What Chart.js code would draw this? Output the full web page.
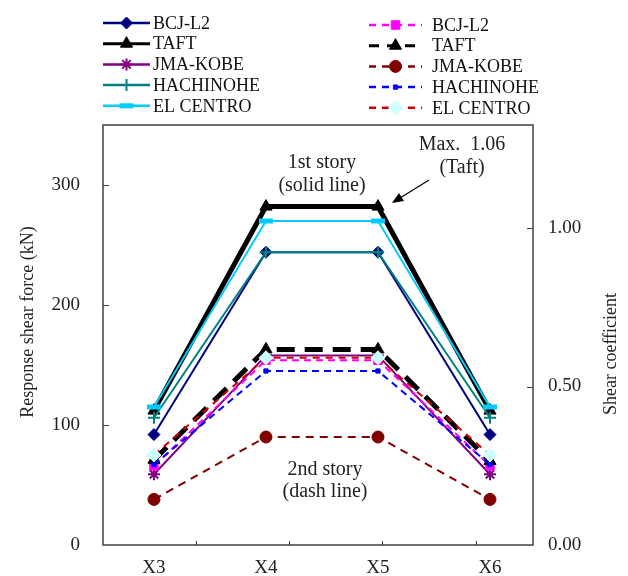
<!DOCTYPE html>
<html>
<head>
<meta charset="utf-8">
<script src="https://cdn.jsdelivr.net/npm/chart.js@4.4.1/dist/chart.umd.min.js"></script>
<style>
  html, body { margin: 0; padding: 0; background: #fff; }
  #wrap { width: 628px; height: 576px; position: relative; }
</style>
</head>
<body>
<div id="wrap"><canvas id="shearChart"></canvas></div>
<script>
// walls along the frame
const categories = ["X3", "X4", "X5", "X6"];

// 1st story response shear force (kN), solid lines
const bcjL2First = [92, 244, 244, 92];
const taftFirst = [112, 282, 282, 112];
const kobeFirst = [59, 158, 158, 59];
const hachinoheFirst = [106, 244, 244, 106];
const elCentroFirst = [115, 270, 270, 115];

// 2nd story response shear force (kN), dashed lines
const bcjL2Second = [66, 154, 154, 66];
const taftSecond = [71, 163, 163, 70];
const kobeSecond = [38, 90, 90, 38];
const hachinoheSecond = [67, 145, 145, 67];
const elCentroSecond = [75, 156, 156, 75];

const leftTicks = [0, 100, 200, 300];
const rightTicks = [0, 0.5, 1.0];
const kNPerCoef = 280 / 1.06; // Taft 1st story max = 1.06

const FONT = "Liberation Serif, Times New Roman, serif";

const series = [
    { label: "BCJ-L2", data: bcjL2First, color: "#000080", width: 2, dash: [], style: "rectRot", r: 6, fill: "#000080" },
    { label: "TAFT", data: taftFirst, color: "#000000", width: 5, dash: [], style: "triangle", r: 7, fill: "#000000" },
    { label: "JMA-KOBE", data: kobeFirst, color: "#800080", width: 2, dash: [], style: "star", r: 6, fill: "#800080" },
    { label: "HACHINOHE", data: hachinoheFirst, color: "#008080", width: 2, dash: [], style: "cross", r: 6, fill: "#008080" },
    { label: "EL CENTRO", data: elCentroFirst, color: "#00CCFF", width: 2, dash: [], style: "line", r: 7, fill: "#00CCFF", bw: 5 },
    { label: "BCJ-L2", data: bcjL2Second, color: "#FF00FF", width: 2, dash: [7, 5], style: "rect", r: 6, fill: "#FF00FF" },
    { label: "TAFT", data: taftSecond, color: "#000000", width: 5, dash: [18, 10], style: "triangle", r: 7, fill: "#000000" },
    { label: "JMA-KOBE", data: kobeSecond, color: "#800000", width: 2, dash: [8, 6], style: "circle", r: 6, fill: "#800000" },
    { label: "HACHINOHE", data: hachinoheSecond, color: "#0000FF", width: 2, dash: [7, 5], style: "rect", r: 3, fill: "#0000FF" },
    { label: "EL CENTRO", data: elCentroSecond, color: "#CC0000", width: 2, dash: [7, 6], style: "rectRot", r: 7, fill: "#CCFFFF", stroke: "#CCFFFF" }
];

const datasets = series.map((s, i) => ({
    label: s.label,
    data: s.data.map((v, j) => ({ x: j, y: v })),
    yAxisID: "y",
    borderColor: s.color,
    borderWidth: s.width,
    borderDash: s.dash,
    pointStyle: s.style,
    pointRadius: s.r,
    pointBackgroundColor: s.fill,
    pointBorderColor: s.stroke || s.fill,
    pointBorderWidth: s.bw || (s.style === "star" || s.style === "cross" ? 2 : 1),
    tension: 0,
    fill: false,
    order: 20 - i
}));

function marker(ctx, s, x, y) {
    ctx.save();
    ctx.setLineDash([]);
    ctx.fillStyle = s.fill;
    ctx.strokeStyle = s.stroke || s.fill;
    ctx.lineWidth = s.bw || (s.style === "star" || s.style === "cross" ? 2 : 1);
    Chart.helpers.drawPoint(ctx, { pointStyle: s.style, radius: s.r, rotation: 0, borderWidth: ctx.lineWidth }, x, y);
    ctx.restore();
}

const decorPlugin = {
    id: "decor",
    afterDraw(chart) {
        const ctx = chart.ctx;
        const a = chart.chartArea;
        const yS = chart.scales.y, y2S = chart.scales.y2, xS = chart.scales.x;
        ctx.save();

        // plot frame
        ctx.strokeStyle = "#404040";
        ctx.lineWidth = 1.5;
        ctx.strokeRect(a.left, a.top, a.right - a.left, a.bottom - a.top);

        // inward tick marks
        ctx.beginPath();
        leftTicks.slice(1).forEach(v => {
            const py = Math.round(yS.getPixelForValue(v)) + 0.5;
            ctx.moveTo(a.left, py); ctx.lineTo(a.left + 6, py);
        });
        rightTicks.slice(1).forEach(v => {
            const py = Math.round(y2S.getPixelForValue(v)) + 0.5;
            ctx.moveTo(a.right, py); ctx.lineTo(a.right - 6, py);
        });
        [0.375, 1.21, 2.04, 2.875].forEach(v => {
            const px = Math.round(xS.getPixelForValue(v)) + 0.5;
            ctx.moveTo(px, a.bottom); ctx.lineTo(px, a.bottom - 4);
        });
        ctx.lineWidth = 1;
        ctx.stroke();

        // axis titles
        ctx.fillStyle = "#222";
        ctx.font = "18px " + FONT;
        ctx.textAlign = "center";
        ctx.textBaseline = "middle";
        ctx.save();
        ctx.translate(28, 322);
        ctx.rotate(-Math.PI / 2);
        ctx.fillText("Response shear force (kN)", 0, 0);
        ctx.restore();
        ctx.save();
        ctx.translate(611, 354);
        ctx.rotate(-Math.PI / 2);
        ctx.fillText("Shear coefficient", 0, 0);
        ctx.restore();

        // annotations
        ctx.font = "20px " + FONT;
        ctx.fillStyle = "#222";
        ctx.fillText("1st story", 322, 163);
        ctx.fillText("(solid line)", 322, 186);
        ctx.fillText("Max.  1.06", 462, 145);
        ctx.fillText("(Taft)", 462, 168);
        ctx.fillText("2nd story", 325, 470);
        ctx.fillText("(dash line)", 325, 492);

        // arrow to Taft max
        ctx.strokeStyle = "#000";
        ctx.lineWidth = 1.2;
        ctx.beginPath();
        ctx.moveTo(429, 180); ctx.lineTo(400, 198);
        ctx.stroke();
        ctx.beginPath();
        ctx.moveTo(392, 203); ctx.lineTo(399, 193); ctx.lineTo(404, 201);
        ctx.closePath();
        ctx.fillStyle = "#000";
        ctx.fill();

        // legend, two columns
        ctx.textAlign = "left";
        ctx.textBaseline = "middle";
        ctx.font = "18px " + FONT;
        series.forEach((s, i) => {
            const col = i < 5 ? 0 : 1;
            const row = i % 5;
            const x0 = col === 0 ? 103 : 369;
            const x1 = col === 0 ? 150 : 422;
            const tx = col === 0 ? 153 : 432;
            const y = (col === 0 ? 23 : 25) + row * 20.7;
            ctx.save();
            ctx.strokeStyle = s.color;
            ctx.lineWidth = s.width === 5 ? 3 : 2.5;
            ctx.setLineDash(col === 0 ? [] : (s.width === 5 ? [10, 8] : [7, 6]));
            ctx.beginPath();
            ctx.moveTo(x0, y); ctx.lineTo(x1, y);
            ctx.stroke();
            ctx.restore();
            marker(ctx, s, (x0 + x1) / 2, y);
            ctx.fillStyle = "#111";
            ctx.fillText(s.label, tx, y + 1);
        });

        ctx.restore();
    }
};

const ctx = document.getElementById("shearChart").getContext("2d");

new Chart(ctx, {
    type: "line",
    data: { datasets: datasets },
    options: {
        responsive: true,
        maintainAspectRatio: false,
        animation: false,
        layout: { padding: { top: 125, left: 0, right: 0, bottom: 0 } },
        plugins: {
            legend: { display: false },
            tooltip: { enabled: false }
        },
        scales: {
            x: {
                type: "linear",
                min: -0.455,
                max: 3.384,
                afterBuildTicks: (scale) => { scale.ticks = categories.map((c, i) => ({ value: i })); },
                afterFit: (scale) => { scale.height = 31; },
                grid: { display: false, drawTicks: false },
                border: { display: false },
                ticks: {
                    padding: 12,
                    maxRotation: 0,
                    color: "#222",
                    font: { family: FONT, size: 19 },
                    callback: (v) => categories[v]
                }
            },
            y: {
                position: "left",
                min: 0,
                max: 350,
                afterBuildTicks: (scale) => { scale.ticks = leftTicks.map(v => ({ value: v })); },
                afterFit: (scale) => { scale.width = 103; },
                grid: { display: false, drawTicks: true, tickLength: 15 },
                border: { display: false },
                ticks: {
                    padding: 8,
                    color: "#222",
                    font: { family: FONT, size: 19 }
                }
            },
            y2: {
                position: "right",
                min: 0,
                max: 350 / kNPerCoef,
                afterBuildTicks: (scale) => { scale.ticks = rightTicks.map(v => ({ value: v })); },
                afterFit: (scale) => { scale.width = 95; },
                grid: { display: false, drawTicks: true, tickLength: 7 },
                border: { display: false },
                ticks: {
                    padding: 8,
                    color: "#222",
                    font: { family: FONT, size: 19 },
                    callback: (v) => v.toFixed(2)
                }
            }
        }
    },
    plugins: [decorPlugin]
});
</script>
</body>
</html>
